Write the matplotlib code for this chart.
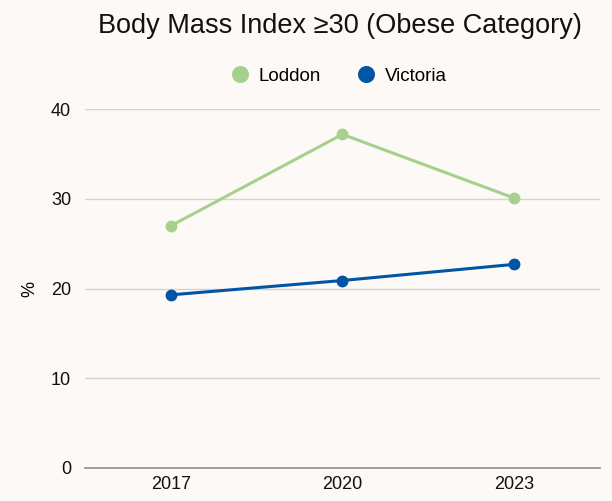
import matplotlib
matplotlib.use('Agg')
import matplotlib.pyplot as plt

# data
years = ['2017', '2020', '2023']
loddon = [27.0, 37.2, 30.1]
victoria = [19.3, 20.9, 22.7]
yticks = [0, 10, 20, 30, 40]

bg = '#fcf9f6'
green = '#a8d08d'
blue = '#0055a4'

plt.rcParams['font.family'] = ['Liberation Sans', 'DejaVu Sans']

fig = plt.figure(figsize=(6.12, 5.01), dpi=100, facecolor=bg)
ax = fig.add_axes([0.139, 0.066, 0.841, 0.716], facecolor=bg)

x = range(len(years))
ax.plot(x, loddon, color=green, lw=2.2, marker='o', ms=7.5, label='Loddon', zorder=3)
ax.plot(x, victoria, color=blue, lw=2.2, marker='o', ms=7.5, label='Victoria', zorder=3)

ax.set_xlim(-0.5, 2.5)
ax.set_ylim(0, 40)
ax.set_xticks(list(x))
ax.set_xticklabels(years)
ax.set_yticks(yticks)
ax.tick_params(length=0, labelsize=13, colors='#111111', pad=6)
ax.tick_params(axis='y', pad=10)

for t in yticks[1:]:
    ax.axhline(t, color='#d6d2ce', lw=1, zorder=1)
for s in ['top', 'right', 'left']:
    ax.spines[s].set_visible(False)
ax.spines['bottom'].set_color('#8c8c8c')
ax.spines['bottom'].set_linewidth(1.2)

ax.set_ylabel('%', fontsize=13, labelpad=9)

fig.text(0.555, 0.948, 'Body Mass Index \u226530 (Obese Category)', ha='center', va='center',
         fontsize=19.5, color='#111111')

leg = fig.legend(loc='center', bbox_to_anchor=(0.555, 0.848), ncol=2, frameon=False,
                 fontsize=13.5, handlelength=0.8, handletextpad=0.6, columnspacing=2.0,
                 markerscale=1.5)
for h in leg.legend_handles:
    h.set_linestyle('')

fig.savefig('out.png', dpi=100, facecolor=bg)
